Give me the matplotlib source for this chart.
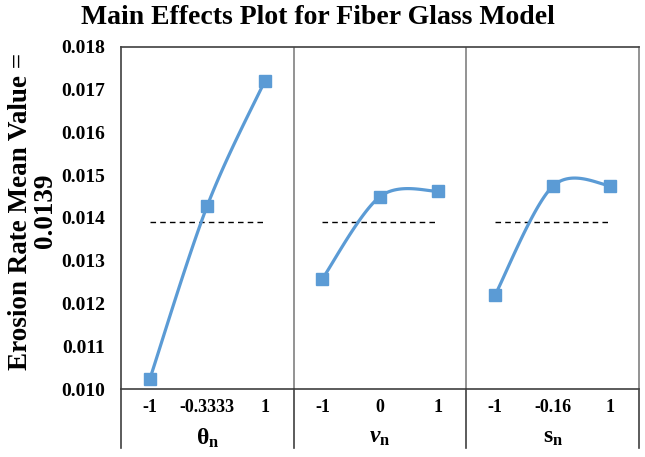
import numpy as np
import matplotlib
matplotlib.use("Agg")
import matplotlib.pyplot as plt

# data
factors = [r"$\mathbf{\theta_n}$", r"$\nu_\mathbf{n}$", r"$\mathbf{s_n}$"]
levels = [["-1", "-0.3333", "1"], ["-1", "0", "1"], ["-1", "-0.16", "1"]]
theta_vals = [0.01023, 0.01429, 0.01721]
nu_vals = [0.01258, 0.01450, 0.01463]
s_vals = [0.01220, 0.01474, 0.01476]
mean_val = 0.0139
yticks = [0.010, 0.011, 0.012, 0.013, 0.014, 0.015, 0.016, 0.017, 0.018]

plt.rcParams['font.family'] = ['Liberation Serif', 'DejaVu Serif']
plt.rcParams['font.weight'] = 'bold'
plt.rcParams['mathtext.fontset'] = 'custom'
plt.rcParams['mathtext.rm'] = 'Liberation Serif:bold'
plt.rcParams['mathtext.bf'] = 'Liberation Serif:bold'
plt.rcParams['mathtext.it'] = 'Liberation Serif:bold:italic'

BLUE = '#5B9BD5'


def smooth(xs, ys, n=40):
    # excel-like smoothed line (catmull-rom bezier)
    p = np.column_stack([xs, ys]).astype(float)
    p = np.vstack([p[0], p, p[-1]])
    out = []
    t = np.linspace(0, 1, n)[:, None]
    for i in range(1, len(p) - 2):
        p0, p1, p2, p3 = p[i - 1], p[i], p[i + 1], p[i + 2]
        c1 = p1 + (p2 - p0) / 6
        c2 = p2 - (p3 - p1) / 6
        seg = (1 - t) ** 3 * p1 + 3 * (1 - t) ** 2 * t * c1 + 3 * (1 - t) * t ** 2 * c2 + t ** 3 * p2
        out.append(seg)
    out = np.vstack(out)
    return out[:, 0], out[:, 1]


fig = plt.figure(figsize=(6.45, 4.57), dpi=100)
ax = fig.add_axes([121 / 645, 1 - 389 / 457, 518 / 645, 342 / 457])

series = [theta_vals, nu_vals, s_vals]
for k, vals in enumerate(series):
    xs = np.arange(3) + 0.5 + 3 * k
    sx, sy = smooth(xs, vals)
    ax.plot(sx, sy, color=BLUE, lw=2.3, zorder=3, solid_capstyle='round')
    ax.plot(xs, vals, ls='none', marker='s', ms=8, color=BLUE, zorder=4)
    ax.plot([xs[0], xs[-1]], [mean_val, mean_val], color='black', lw=1.0,
            ls=(0, (4, 3)), zorder=2)

ax.set_xlim(0, 9)
ax.set_ylim(0.010, 0.018)
ax.set_yticks(yticks)
ax.set_yticklabels([f"{v:.3f}" for v in yticks], fontsize=14, fontweight='bold')
ax.tick_params(axis='y', length=0, pad=11.5)
ax.set_xticks([])

for sp in ['top', 'left', 'bottom']:
    ax.spines[sp].set_color('#404040')
    ax.spines[sp].set_linewidth(1.2)
ax.spines['right'].set_color('#808080')
ax.spines['right'].set_linewidth(1.2)
for xd in [3, 6]:
    ax.axvline(xd, color='#808080', lw=1.2)

# category table below the plot
trans = ax.get_xaxis_transform()
yb = -(448 - 389) / 342
for xd in [0, 3, 6, 9]:
    ax.plot([xd, xd], [0, yb], transform=trans, color='#404040', lw=1.2, clip_on=False)
for k in range(3):
    for j, lab in enumerate(levels[k]):
        ax.text(3 * k + 0.5 + j, -(408 - 389) / 342, lab, transform=trans,
                ha='center', va='center', fontsize=13, fontweight='bold')
    ax.text(3 * k + 1.5, -(438 - 389) / 342, factors[k], transform=trans,
            ha='center', va='center', fontsize=17)

fig.text(318 / 645, 1 - 17 / 457, "Main Effects Plot for Fiber Glass Model",
         ha='center', va='center', fontsize=20, fontweight='bold')
fig.text(33 / 645, 1 - 211 / 457, "Erosion Rate Mean Value =\n0.0139", rotation=90,
         ha='center', va='center', fontsize=19.5, fontweight='bold',
         multialignment='center', linespacing=1.0)

fig.savefig("out.png", dpi=100)
